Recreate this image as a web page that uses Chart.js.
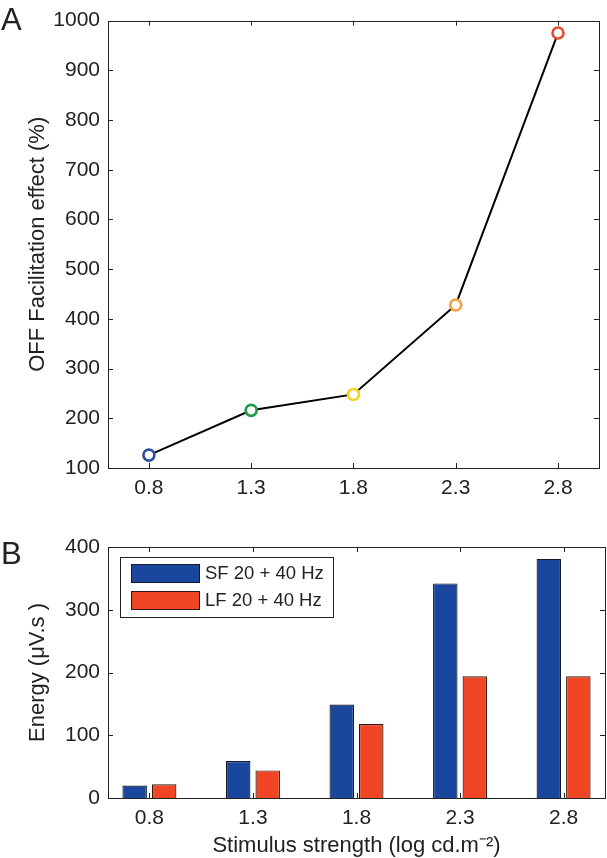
<!DOCTYPE html>
<html>
<head>
<meta charset="utf-8">
<script src="https://cdn.jsdelivr.net/npm/chart.js@4/dist/chart.umd.min.js"></script>
<style>
  body { margin: 0; background: #fff; width: 607px; height: 858px; position: relative; overflow: hidden; }
  .panel { position: absolute; font-family: "Liberation Sans", Arial, sans-serif; font-size: 31px; color: #222; line-height: 1; }
  #wrapA { position: absolute; left: 0; top: 0; width: 607px; height: 510px; }
  #wrapB { position: absolute; left: 0; top: 510px; width: 607px; height: 348px; }
</style>
</head>
<body>
<div id="wrapA"><canvas id="chartA"></canvas></div>
<div id="wrapB"><canvas id="chartB"></canvas></div>
<div class="panel" style="left:1px; top:4px;">A</div>
<div class="panel" style="left:1px; top:538px;">B</div>
<script>
// stimulus strengths (log cd.m-2)
const stimulus = [0.8, 1.3, 1.8, 2.3, 2.8];
// panel A: OFF facilitation effect (%)
const offFacilitation = [126, 216, 248, 428, 975];
const markerColors = ['#2b50a3', '#1e9a4a', '#f5d21c', '#f4a23c', '#e94c2e'];
const yTicksA = [100, 200, 300, 400, 500, 600, 700, 800, 900, 1000];
// panel B: energy (uV.s)
const sfEnergy = [20, 59, 149, 342, 381];
const lfEnergy = [22, 44, 118, 194, 194];
const yTicksB = [0, 100, 200, 300, 400];

const FONT = '"Liberation Sans", Arial, sans-serif';
const INK = '#222';

// box round the plot with inward ticks on all four sides
const framePlugin = {
  id: 'frame',
  afterDatasetsDraw(chart) {
    const { ctx, chartArea: a, scales: { x, y } } = chart;
    const len = 5;
    ctx.save();
    ctx.strokeStyle = INK;
    ctx.lineWidth = 1;
    ctx.beginPath();
    x.ticks.forEach(t => {
      const px = Math.round(x.getPixelForValue(t.value)) + 0.5;
      ctx.moveTo(px, a.bottom); ctx.lineTo(px, a.bottom - len);
      ctx.moveTo(px, a.top); ctx.lineTo(px, a.top + len);
    });
    y.ticks.forEach(t => {
      const py = Math.round(y.getPixelForValue(t.value)) + 0.5;
      ctx.moveTo(a.left, py); ctx.lineTo(a.left + len, py);
      ctx.moveTo(a.right, py); ctx.lineTo(a.right - len, py);
    });
    ctx.stroke();
    ctx.strokeRect(Math.round(a.left) + 0.5, Math.round(a.top) + 0.5,
      Math.round(a.right - a.left), Math.round(a.bottom - a.top));
    ctx.restore();
  }
};

// boxed legend in the top-left corner of panel B
const boxLegend = {
  id: 'boxLegend',
  afterDraw(chart) {
    const { ctx, chartArea: a } = chart;
    const bx = a.left + 12, by = a.top + 10;
    ctx.save();
    ctx.fillStyle = '#fff';
    ctx.fillRect(bx, by, 213, 60);
    ctx.strokeStyle = INK;
    ctx.lineWidth = 1;
    ctx.strokeRect(bx + 0.5, by + 0.5, 213, 60);
    chart.data.datasets.forEach((ds, i) => {
      const sy = by + 7 + i * 27;
      ctx.fillStyle = ds.backgroundColor;
      ctx.fillRect(bx + 11, sy, 68, 18);
      ctx.strokeStyle = ds.borderColor;
      ctx.strokeRect(bx + 11.5, sy + 0.5, 68, 18);
      ctx.fillStyle = INK;
      ctx.font = '18.5px ' + FONT;
      ctx.textBaseline = 'middle';
      ctx.fillText(ds.label, bx + 85, sy + 10);
    });
    ctx.restore();
  }
};

function xScale() {
  return {
    type: 'linear', min: 0.6, max: 3.0, offset: false,
    afterBuildTicks: s => { s.ticks = stimulus.map(v => ({ value: v })); },
    ticks: { color: INK, font: { family: FONT, size: 21 }, padding: 8,
      callback: v => v.toFixed(1), maxRotation: 0, autoSkip: false },
    grid: { display: false, drawTicks: false, offset: false },
    border: { display: false }
  };
}

function yScale(min, max, ticks, title, width) {
  return {
    min: min, max: max,
    afterBuildTicks: s => { s.ticks = ticks.map(v => ({ value: v })); },
    afterFit: s => { s.width = width; },
    ticks: { color: INK, font: { family: FONT, size: 21 }, padding: 8, callback: v => String(v) },
    grid: { display: false, drawTicks: false },
    border: { display: false },
    title: { display: true, text: title, color: INK, font: { family: FONT, size: 22 }, padding: { top: 25 } }
  };
}

const xA = xScale();
xA.afterFit = s => { s.height = 42; };

new Chart(document.getElementById('chartA'), {
  type: 'line',
  data: {
    datasets: [{
      data: stimulus.map((s, i) => ({ x: s, y: offFacilitation[i] })),
      borderColor: '#000',
      borderWidth: 2,
      tension: 0,
      pointRadius: 5.5,
      pointBorderWidth: 2.6,
      pointBackgroundColor: '#fff',
      pointBorderColor: markerColors
    }]
  },
  options: {
    responsive: true, maintainAspectRatio: false, animation: false,
    layout: { padding: { top: 14, right: 3, left: 0, bottom: 0 } },
    plugins: { legend: { display: false }, tooltip: { enabled: false } },
    scales: { x: xA, y: yScale(100, 1000, yTicksA, 'OFF Facilitation effect (%)', 108) }
  },
  plugins: [framePlugin]
});

const xB = xScale();
xB.afterFit = s => { s.height = 60; };
xB.title = { display: true, text: 'Stimulus strength (log cd.m\u207B\u00B2)', color: INK,
  font: { family: FONT, size: 22 }, padding: { top: 0, bottom: -1 } };

new Chart(document.getElementById('chartB'), {
  type: 'bar',
  data: {
    datasets: [{
      label: 'SF 20 + 40 Hz',
      data: stimulus.map((s, i) => ({ x: s, y: sfEnergy[i] })),
      backgroundColor: '#1a469e', borderColor: '#141a2a', borderWidth: 1.2
    }, {
      label: 'LF 20 + 40 Hz',
      data: stimulus.map((s, i) => ({ x: s, y: lfEnergy[i] })),
      backgroundColor: '#f04626', borderColor: '#33160f', borderWidth: 1.2
    }]
  },
  options: {
    responsive: true, maintainAspectRatio: false, animation: false,
    categoryPercentage: 0.57, barPercentage: 0.83,
    layout: { padding: { top: 37, right: 2, left: 0, bottom: 0 } },
    plugins: { legend: { display: false }, tooltip: { enabled: false } },
    scales: { x: xB, y: yScale(0, 400, yTicksB, 'Energy (\u03BCV.s )', 108) }
  },
  plugins: [framePlugin, boxLegend]
});
</script>
</body>
</html>
